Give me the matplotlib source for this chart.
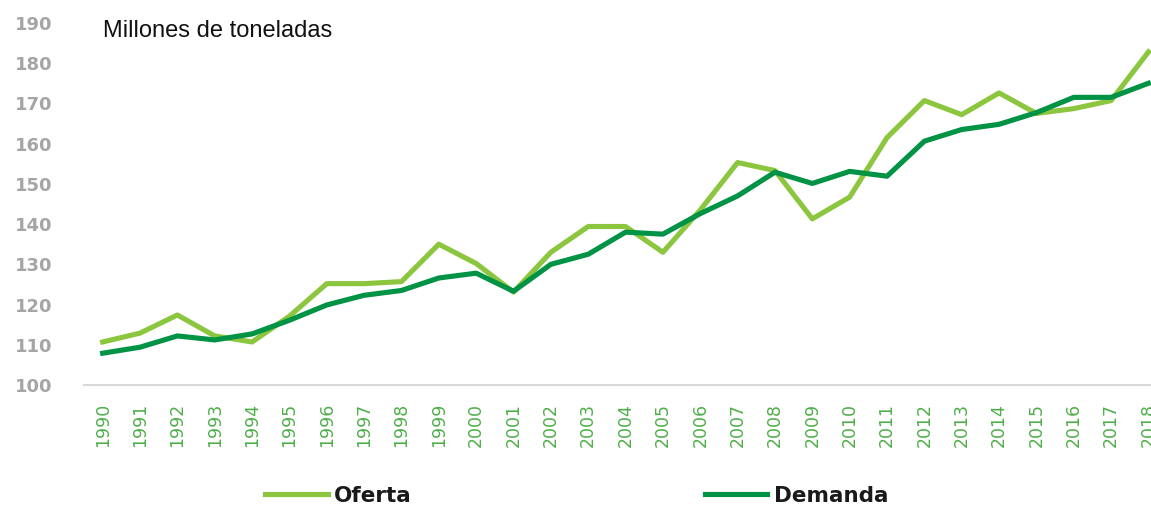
import numpy as np
import matplotlib
matplotlib.use("Agg")
from matplotlib import pyplot as plt

years = list(range(1990, 2019))

oferta = [110.7, 112.9, 117.4, 112.2, 110.7, 117.1, 125.2, 125.2, 125.7, 135.0,
          130.2, 123.1, 133.0, 139.4, 139.4, 133.0, 143.5, 155.3, 153.3, 141.3,
          146.7, 161.5, 170.7, 167.2, 172.6, 167.5, 168.7, 170.7, 182.8]

demanda = [107.9, 109.4, 112.2, 111.2, 112.7, 116.1, 119.9, 122.3, 123.5, 126.6,
           127.8, 123.3, 130.0, 132.5, 138.0, 137.5, 142.6, 147.0, 152.9, 150.1,
           153.1, 151.9, 160.6, 163.5, 164.8, 167.7, 171.5, 171.5, 175.0]

yticks = list(range(100, 200, 10))

c_oferta = "#8cc63f"
c_demanda = "#009245"

fig = plt.figure(figsize=(11.51, 5.05), dpi=100)
# axes runs past the right edge, like the cropped original (2018 is cut)
ax = fig.add_axes([0.073, 0.2376, 0.941, 0.717])

ax.plot(years, oferta, color=c_oferta, lw=3.7, label="Oferta")
ax.plot(years, demanda, color=c_demanda, lw=3.7, label="Demanda")

ax.set_xlim(1989.5, 2018.5)
ax.set_ylim(100, 190)
ax.set_yticks(yticks)
ax.set_xticks(years)
ax.set_xticklabels([str(y) for y in years], rotation=90, color="#4fae4a", fontsize=12.5)
for lab in ax.get_yticklabels():
    lab.set_fontweight("bold")
    lab.set_color("#a5a5a5")
    lab.set_fontsize(13)

ax.tick_params(axis="y", length=0, pad=23)
ax.tick_params(axis="x", length=0, pad=13)
for s in ["top", "right", "left"]:
    ax.spines[s].set_visible(False)
ax.spines["bottom"].set_color("#d9d9d9")
ax.spines["bottom"].set_linewidth(1.5)
ax.patch.set_alpha(0)

fig.text(103 / 1151, 1 - 31 / 505, "Millones de toneladas", fontsize=17,
         family="Liberation Sans", va="center", ha="left", color="#111111")

leg = fig.legend(loc="center", bbox_to_anchor=(0.501, 0.018), ncol=2, frameon=False,
                 handlelength=2.9, handletextpad=0.3, columnspacing=13.6,
                 prop={"weight": "bold", "size": 15.5})
for t in leg.get_texts():
    t.set_color("#1a1a1a")

plt.savefig("out.png", dpi=100)
